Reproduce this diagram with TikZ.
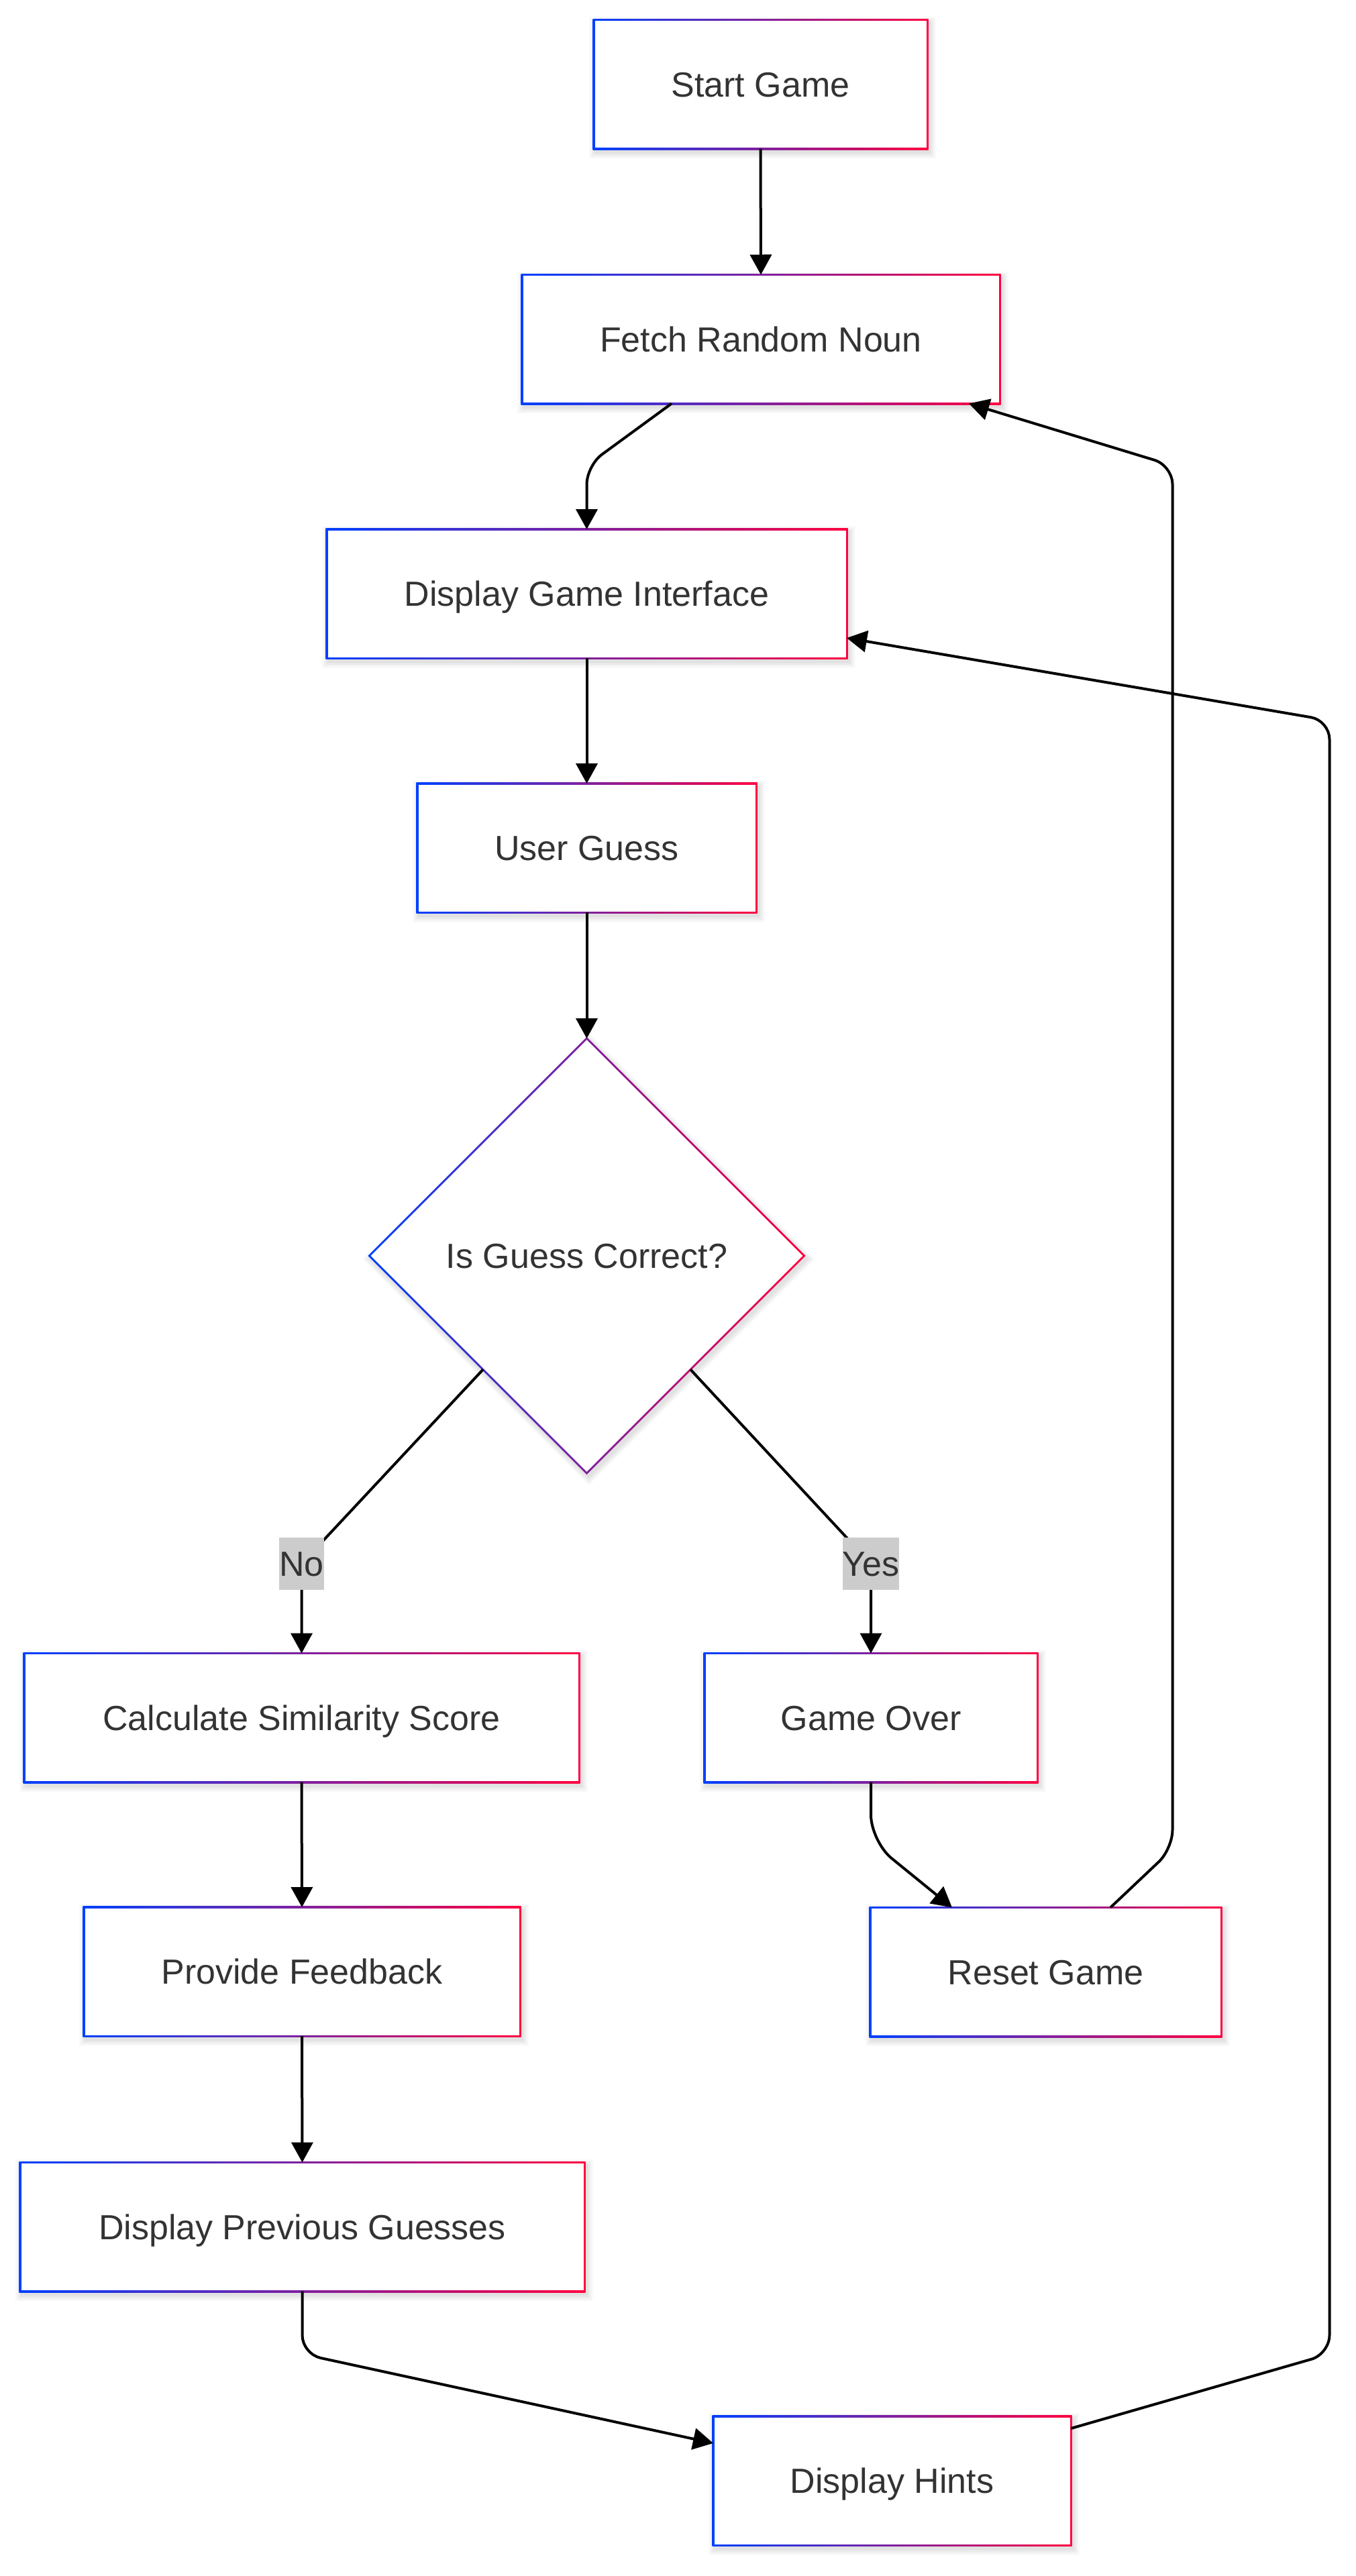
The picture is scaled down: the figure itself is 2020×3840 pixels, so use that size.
\documentclass[tikz,border=0pt]{standalone}
\usepackage{fontspec}
\setmainfont{Liberation Sans}
\usetikzlibrary{shapes.geometric,arrows.meta,backgrounds,calc}
\definecolor{gB}{RGB}{0,64,255}
\definecolor{gR}{RGB}{255,0,64}
\definecolor{txt}{HTML}{333333}
\definecolor{lbl}{HTML}{CCCCCC}
\tikzset{
  box/.style={rectangle, minimum height=96pt, inner sep=0pt, outer sep=0pt, text=txt, text height=18.6pt, text depth=0pt, font=\fontsize{26}{31}\selectfont},
  dia/.style={diamond, aspect=1, minimum width=324pt, minimum height=324pt, inner sep=0pt, outer sep=0pt, text=txt, text height=18.6pt, text depth=0pt, font=\fontsize{26}{31}\selectfont},
  flow/.style={draw=black, line width=2pt, -{Triangle[length=15pt,width=16pt]}, rounded corners=14pt},
  lab/.style={fill=lbl, inner sep=0pt, outer sep=0pt, minimum height=39pt, text=txt, text height=18.6pt, text depth=0pt, font=\fontsize{26}{31}\selectfont}
}
\newcommand\frameR[1]{%
  \foreach \k in {1,...,6}{\fill[black,opacity=0.018] ([shift={(3-\k*1.6,5-\k*1.6)}]#1.north west) rectangle ([shift={(3+\k*1.6,5+\k*1.6)}]#1.south east);}
  \shade[left color=gB,right color=gR] ([shift={(-1.5,-1.5)}]#1.north west) rectangle ([shift={(1.5,1.5)}]#1.south east);
  \fill[white] ([shift={(1.5,1.5)}]#1.north west) rectangle ([shift={(-1.5,-1.5)}]#1.south east);}
\newcommand\frameD[1]{%
  \foreach \k in {1,...,6}{\fill[black,opacity=0.018] ([shift={(3,5-\k*2.2)}]#1.north) -- ([shift={(3+\k*2.2,5)}]#1.east) -- ([shift={(3,5+\k*2.2)}]#1.south) -- ([shift={(3-\k*2.2,5)}]#1.west) -- cycle;}
  \shade[left color=gB,right color=gR] ([shift={(0,-2.1)}]#1.north) -- ([shift={(2.1,0)}]#1.east) -- ([shift={(0,2.1)}]#1.south) -- ([shift={(-2.1,0)}]#1.west) -- cycle;
  \fill[white] ([shift={(0,2.1)}]#1.north) -- ([shift={(-2.1,0)}]#1.east) -- ([shift={(0,-2.1)}]#1.south) -- ([shift={(2.1,0)}]#1.west) -- cycle;}
\begin{document}
\begin{tikzpicture}[x=0.5pt,y=-0.5pt]
\useasboundingbox (0,0) rectangle (2020,3840);
% nodes
\node[box, minimum width=248.5pt] (start) at (1133.5,125.5) {Start Game};
\node[box, minimum width=356pt] (fetch) at (1134,505.5) {Fetch Random Noun};
\node[box, minimum width=387.5pt] (dgi) at (874.5,885) {Display Game Interface};
\node[box, minimum width=252.5pt] (ug) at (874.5,1264) {User Guess};
\node[dia] (dec) at (874.5,1872) {Is Guess Correct?};
\node[box, minimum width=413.5pt] (calc) at (449.5,2560.5) {Calculate Similarity Score};
\node[box, minimum width=248pt] (over) at (1298,2560.5) {Game Over};
\node[box, minimum width=325pt] (fb) at (450,2939) {Provide Feedback};
\node[box, minimum width=261.5pt] (reset) at (1558.5,2939.5) {Reset Game};
\node[box, minimum width=420.5pt] (dpg) at (450.5,3319.5) {Display Previous Guesses};
\node[box, minimum width=266.5pt] (hints) at (1329.5,3698) {Display Hints};
% frames behind the texts
\begin{pgfonlayer}{background}
\fill[white] (0,0) rectangle (2020,3840);
\frameR{start}\frameR{fetch}\frameR{dgi}\frameR{ug}\frameD{dec}
\frameR{calc}\frameR{over}\frameR{fb}\frameR{reset}\frameR{dpg}\frameR{hints}
\end{pgfonlayer}
% bend points
\coordinate (nopos) at (449.5,2331);
\coordinate (yespos) at (1298,2331);
\coordinate (b1) at (874.5,694);
\coordinate (c1) at (1298,2745);
\coordinate (c2) at (1747.5,2756);
\coordinate (c3) at (1747.5,694);
\coordinate (c4) at (450.5,3509);
\coordinate (c5) at (1981.5,3509);
\coordinate (c6) at (1981.5,1074);
% connectors
\draw[flow] (start.south) -- (fetch.north);
\draw[flow] ([shift={(-133,0)}]fetch.south) -- (b1) -- (dgi.north);
\draw[flow] (dgi.south) -- (ug.north);
\draw[flow] (ug.south) -- (dec.north);
\draw[flow] ($(dec.west)!0.523!(dec.south)$) -- (nopos) -- (calc.north);
\draw[flow] ($(dec.east)!0.523!(dec.south)$) -- (yespos) -- (over.north);
\draw[flow] (calc.south) -- (fb.north);
\draw[flow] (fb.south) -- (dpg.north);
\draw[flow, rounded corners=20pt] (over.south) -- (c1) -- ([shift={(-139.5,0)}]reset.north);
\draw[flow] ([shift={(96.5,0)}]reset.north) -- (c2) -- (c3) -- ([shift={(-46,0)}]fetch.south east);
\draw[flow] (dpg.south) -- (c4) -- ([shift={(0,40)}]hints.north west);
\draw[flow] ([shift={(0,18)}]hints.north east) -- (c5) -- (c6) -- ([shift={(0,-30)}]dgi.south east);
% edge labels
\node[lab] (no) at (nopos) {No};
\node[lab] (yes) at (yespos) {Yes};
\end{tikzpicture}
\end{document}
